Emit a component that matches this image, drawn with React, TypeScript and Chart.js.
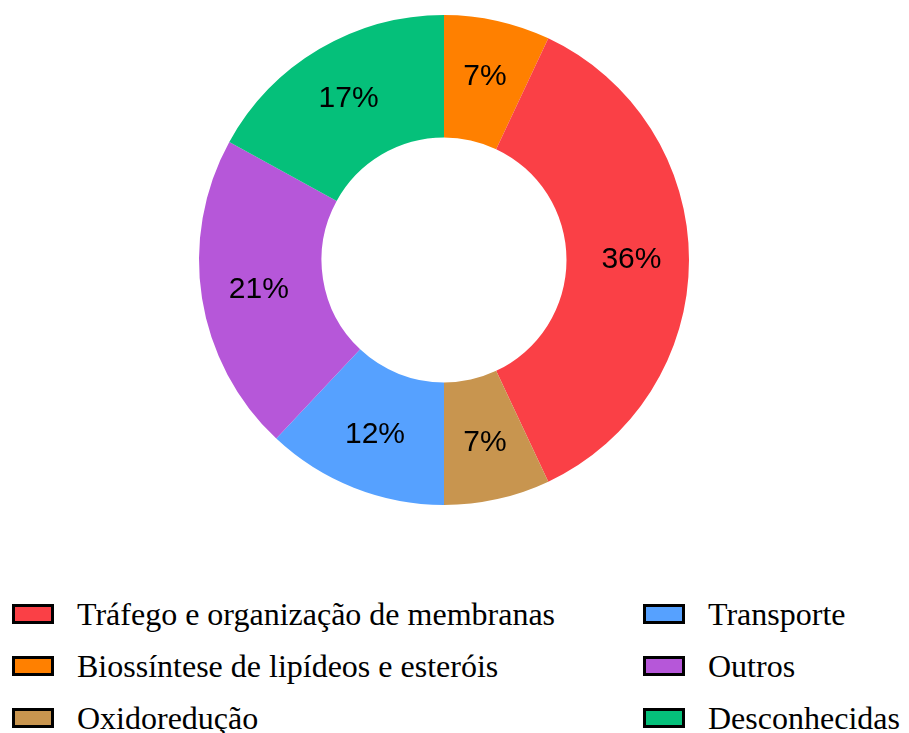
import React, { useEffect, useRef } from "react";
import { Chart, registerables } from "chart.js";

Chart.register(...registerables);

const categories = [
  "Biossíntese de lipídeos e esteróis",
  "Tráfego e organização de membranas",
  "Oxidoredução",
  "Transporte",
  "Outros",
  "Desconhecidas",
];
const values = [7, 36, 7, 12, 21, 17];
const colors = ["#FF8000", "#FA4046", "#C8954F", "#56A1FF", "#B657D9", "#05C07A"];
const legendOrder = [
  "Tráfego e organização de membranas",
  "Biossíntese de lipídeos e esteróis",
  "Oxidoredução",
  "Transporte",
  "Outros",
  "Desconhecidas",
];

const labelPlugin = {
  id: "sliceLabels",
  afterDatasetsDraw(chart: any) {
    const ctx = chart.ctx;
    const meta = chart.getDatasetMeta(0);
    const total = values.reduce((a, b) => a + b, 0);
    ctx.save();
    ctx.font = "30px 'Liberation Sans', Arial, sans-serif";
    ctx.fillStyle = "#000";
    ctx.textAlign = "center";
    ctx.textBaseline = "middle";
    meta.data.forEach((arc: any, i: number) => {
      const { startAngle, endAngle, innerRadius, outerRadius, x, y } = arc.getProps(
        ["startAngle", "endAngle", "innerRadius", "outerRadius", "x", "y"],
        true
      );
      const a = (startAngle + endAngle) / 2;
      const r = innerRadius + 0.53 * (outerRadius - innerRadius);
      const pct = Math.round((values[i] / total) * 100) + "%";
      ctx.fillText(pct, x + Math.cos(a) * r, y + Math.sin(a) * r);
    });
    ctx.restore();
  },
};

export default function App() {
  const ref = useRef<HTMLCanvasElement>(null);
  useEffect(() => {
    if (!ref.current) return;
    const chart = new Chart(ref.current, {
      type: "doughnut",
      data: {
        labels: categories,
        datasets: [
          {
            data: values,
            backgroundColor: colors,
            borderWidth: 0,
          },
        ],
      },
      options: {
        animation: false,
        responsive: false,
        cutout: "50%",
        layout: { padding: 15 },
        plugins: {
          legend: { display: false },
          tooltip: { enabled: false },
        },
      },
      plugins: [labelPlugin],
    });
    return () => chart.destroy();
  }, []);

  const colX = [12, 643];
  const rowY = [614, 666, 718];

  return (
    <div style={{ position: "absolute", left: 0, top: 0, width: 909, height: 733, background: "#fff" }}>
      <canvas ref={ref} width={888} height={520} style={{ position: "absolute", left: 0, top: 0 }} />
      {legendOrder.map((name, k) => {
        const idx = categories.indexOf(name);
        const col = Math.floor(k / 3);
        const row = k % 3;
        return (
          <div
            key={name}
            style={{
              position: "absolute",
              left: colX[col],
              top: rowY[row] - 20,
              height: 40,
              display: "flex",
              alignItems: "center",
              fontFamily: "'Liberation Serif', 'Times New Roman', serif",
              fontSize: 32,
              color: "#000",
              whiteSpace: "nowrap",
            }}
          >
            <span
              style={{
                display: "inline-block",
                width: 36,
                height: 14,
                background: colors[idx],
                border: "3px solid #000",
                marginRight: 23,
              }}
            />
            <span>{name}</span>
          </div>
        );
      })}
    </div>
  );
}
